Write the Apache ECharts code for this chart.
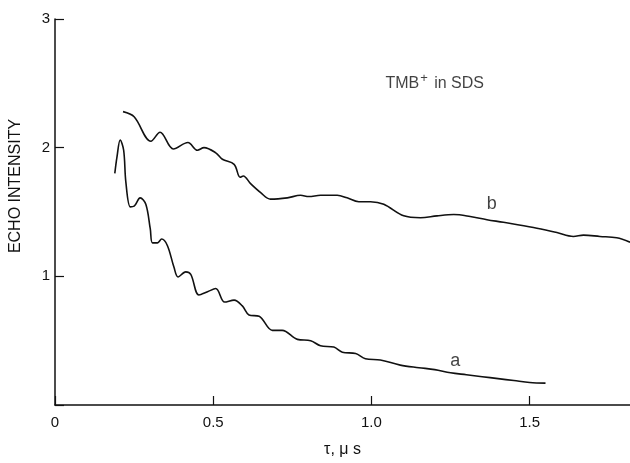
<!DOCTYPE html>
<html>
<head>
<meta charset="utf-8">
<script src="https://cdn.jsdelivr.net/npm/echarts@6/dist/echarts.min.js"></script>
<style>html,body{margin:0;padding:0;background:#fff}#c{width:630px;height:463px}</style>
</head>
<body>
<div id="c"></div>
<script>
// Curve a: [tau (us), echo intensity]
var curveA = [
  [0.189,1.80],[0.196,1.93],[0.206,2.06],[0.217,1.98],[0.224,1.73],[0.238,1.54],[0.250,1.545],
  [0.269,1.61],[0.287,1.56],[0.301,1.37],[0.308,1.26],[0.324,1.26],[0.337,1.29],[0.355,1.24],
  [0.376,1.07],[0.389,0.995],[0.413,1.035],[0.429,1.015],[0.455,0.855],[0.482,0.88],[0.508,0.905],
  [0.536,0.80],[0.566,0.815],[0.592,0.77],[0.613,0.70],[0.645,0.69],[0.687,0.58],[0.718,0.58],
  [0.766,0.51],[0.808,0.50],[0.839,0.46],[0.881,0.45],[0.908,0.41],[0.950,0.40],[0.981,0.36],
  [1.028,0.35],[1.091,0.31],[1.15,0.29],[1.20,0.275],[1.25,0.25],[1.30,0.235],[1.35,0.22],
  [1.40,0.205],[1.45,0.19],[1.50,0.175],[1.55,0.17]
];
// Curve b
var curveB = [
  [0.215,2.28],[0.250,2.24],[0.303,2.05],[0.332,2.12],[0.374,1.99],[0.420,2.04],[0.450,1.98],
  [0.471,2.00],[0.508,1.96],[0.529,1.91],[0.566,1.87],[0.585,1.77],[0.595,1.78],[0.618,1.72],
  [0.650,1.65],[0.681,1.60],[0.734,1.61],[0.776,1.63],[0.802,1.62],[0.839,1.63],[0.892,1.63],
  [0.923,1.61],[0.960,1.58],[0.997,1.58],[1.039,1.56],[1.102,1.47],[1.155,1.455],[1.207,1.47],
  [1.260,1.48],[1.312,1.465],[1.365,1.44],[1.417,1.42],[1.512,1.38],[1.586,1.34],[1.638,1.31],
  [1.670,1.32],[1.722,1.31],[1.775,1.30],[1.817,1.265]
];
var xTicks = [0, 0.5, 1.0, 1.5];
var xTickLabels = ['0', '0.5', '1.0', '1.5'];
var yTickLabels = ['', '1', '2', '3'];
// annotations: [tau, intensity, text]
var annotations = [
  [1.265, 0.34, 'a'],
  [1.38, 1.56, 'b']
];
var titleNote = [1.044, 2.50];

var chart = echarts.init(document.getElementById('c'), null, {renderer: 'canvas'});
var font = 'Liberation Sans, Arial, sans-serif';
chart.setOption({
  animation: false,
  backgroundColor: '#fff',
  grid: {left: 54, right: 0, top: 19, bottom: 50},
  xAxis: {
    type: 'value', min: 0, max: 1.817, interval: 0.5,
    name: 'τ, μ s', nameLocation: 'middle', nameGap: 37,
    nameTextStyle: {color: '#111', fontSize: 16, fontFamily: font},
    axisLine: {lineStyle: {color: '#111', width: 1.5}},
    axisTick: {inside: true, length: 9, lineStyle: {color: '#111', width: 1.2}},
    axisLabel: {
      color: '#111', fontSize: 15, fontFamily: font, margin: 10, showMaxLabel: false,
      formatter: function (v) { var i = xTicks.indexOf(Math.round(v * 10) / 10); return i >= 0 ? xTickLabels[i] : ''; }
    },
    splitLine: {show: false}
  },
  yAxis: {
    type: 'value', min: 0, max: 3, interval: 1,
    name: 'ECHO INTENSITY', nameLocation: 'middle', nameGap: 31, nameRotate: 90,
    nameTextStyle: {color: '#111', fontSize: 16, fontFamily: font, padding: [0, 0, 0, 52]},
    axisLine: {show: true, lineStyle: {color: '#111', width: 1.5}},
    axisTick: {show: true, inside: true, length: 9, lineStyle: {color: '#111', width: 1.2}},
    axisLabel: {
      color: '#111', fontSize: 15, fontFamily: font, margin: 5,
      formatter: function (v) { return yTickLabels[Math.round(v)] || ''; }
    },
    splitLine: {show: false}
  },
  series: [
    {type: 'line', data: curveA, showSymbol: false, smooth: 0.35,
     lineStyle: {color: '#111', width: 1.6}},
    {type: 'line', data: curveB, showSymbol: false, smooth: 0.35,
     lineStyle: {color: '#111', width: 1.6}},
    {type: 'scatter', symbolSize: 0,
     data: annotations.map(function (a) { return {value: [a[0], a[1]], name: a[2]}; }),
     label: {show: true, position: 'inside', formatter: '{b}', color: '#111', fontSize: 18, fontFamily: font}},
    {type: 'scatter', symbolSize: 0,
     data: [{value: titleNote, name: 'TMB'}],
     label: {show: true, position: 'right', distance: 0,
       formatter: '{m|TMB}{s|+}{m| in SDS}',
       rich: {m: {color: '#111', fontSize: 16, fontFamily: font},
              s: {color: '#111', fontSize: 13, fontFamily: font, verticalAlign: 'top', padding: [0, 2, 9, 1]}}}}
  ]
});
</script>
</body>
</html>
